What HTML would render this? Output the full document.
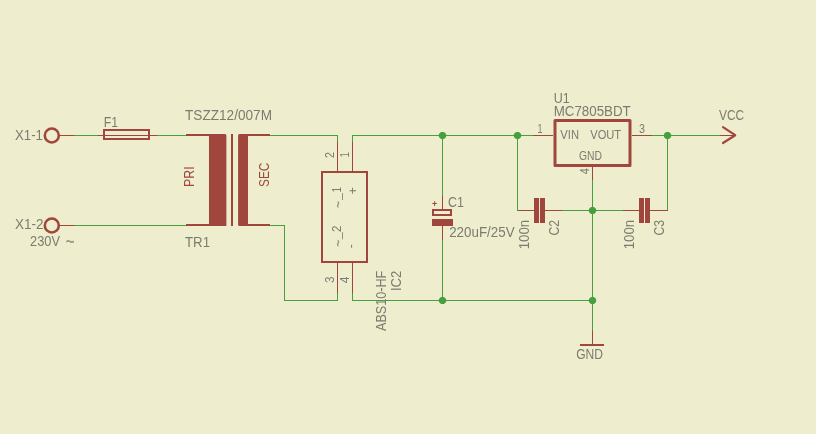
<!DOCTYPE html>
<html>
<head>
<meta charset="utf-8">
<title>Schematic</title>
<style>
html,body{margin:0;padding:0;background:#eeeece;}
body{width:816px;height:434px;overflow:hidden;}
svg{display:block;will-change:transform;}
text{font-family:"Liberation Sans",sans-serif;}
.w{stroke:#46a03d;stroke-width:1;fill:none;shape-rendering:crispEdges;}
.p{stroke:#a0463d;stroke-width:1;fill:none;shape-rendering:crispEdges;}
.s{stroke:#a0463d;stroke-width:2;fill:none;}
.f{fill:#a0463d;stroke:none;shape-rendering:crispEdges;}
.j{fill:#46a03d;stroke:none;}
.t{fill:#7b7b70;font-size:14.4px;}
.n{fill:#7b7b70;font-size:12.2px;}
.r{fill:#a0463d;font-size:14.4px;}
</style>
</head>
<body>
<svg width="816" height="434" viewBox="0 0 816 434">
<rect x="0" y="0" width="816" height="434" fill="#eeeece"/>

<!-- wires -->
<path class="w" d="M74 135.5H98 M157 135.5H186 M74 225.5H186"/>
<path class="w" d="M270 135.5H337.5V142 M270 225.5H284.5V300.5H337.5V292.5"/>
<path class="w" d="M352.5 142V135.5H533 M652 135.5H720 M352.5 292.5V300.5H592.5"/>
<path class="w" d="M442.5 135.5V195.5 M442.5 240V300.5"/>
<path class="w" d="M517.5 135.5V210.5 M562 210.5H623 M667.5 135.5V210.5 M592.5 180V330.5"/>

<!-- pins (red thin) -->
<path class="p" d="M60 135.5H74 M98 135.5H157 M60 225.5H74"/>
<path class="p" d="M337.5 142V171 M352.5 142V171 M337.5 263V292.5 M352.5 263V292.5"/>
<path class="p" d="M442.5 195.5V210 M442.5 225V240"/>
<path class="p" d="M517.5 210.5H534 M545 210.5H562 M623 210.5H639 M650 210.5H667.5"/>
<path class="p" d="M533 135.5H553 M632 135.5H652 M592.5 166V180 M592.5 330.5V345 M720 135.5H735"/>

<!-- connectors -->
<circle class="s" cx="51.8" cy="135.5" r="7" style="stroke-width:2.6"/>
<circle class="s" cx="51.8" cy="225.5" r="7" style="stroke-width:2.6"/>
<text class="t" x="15" y="139.7" textLength="28" lengthAdjust="spacingAndGlyphs">X1-1</text>
<text class="t" x="15" y="229.2" textLength="28.5" lengthAdjust="spacingAndGlyphs">X1-2</text>
<text class="t" x="30" y="246" textLength="30" lengthAdjust="spacingAndGlyphs">230V</text>
<text class="t" transform="translate(65.6 249.6) scale(1 1.8)" textLength="9" lengthAdjust="spacingAndGlyphs" style="fill:#97978a">~</text>

<!-- fuse -->
<rect class="s" x="104" y="130" width="45" height="9" shape-rendering="crispEdges"/>
<text class="t" x="103.7" y="127" textLength="14.3" lengthAdjust="spacingAndGlyphs">F1</text>

<!-- transformer -->
<path d="M186 134H225Q226.4 134 226.4 135.5V226H186V224H209V136H186Z" fill="#a0463d"/>
<rect class="f" x="231" y="134" width="2" height="92"/>
<path d="M270 134H239.5Q238.1 134 238.1 135.5V224.5Q238.1 226 239.5 226H270V224H248V136H270Z" fill="#a0463d"/>
<text class="t" x="185" y="120" textLength="87" lengthAdjust="spacingAndGlyphs">TSZZ12/007M</text>
<text class="t" x="185" y="247" textLength="25" lengthAdjust="spacingAndGlyphs">TR1</text>
<text class="r" transform="translate(194 187) rotate(-90)" textLength="20.6" lengthAdjust="spacingAndGlyphs">PRI</text>
<text class="r" transform="translate(269 187) rotate(-90)" textLength="24.3" lengthAdjust="spacingAndGlyphs">SEC</text>

<!-- bridge -->
<rect class="s" x="322" y="172" width="45" height="90" shape-rendering="crispEdges"/>
<text class="n" transform="translate(334 158) rotate(-90)" textLength="6" lengthAdjust="spacingAndGlyphs">2</text>
<text class="n" transform="translate(349 157.5) rotate(-90)" textLength="5.5" lengthAdjust="spacingAndGlyphs">1</text>
<text class="n" transform="translate(334 283) rotate(-90)" textLength="6.5" lengthAdjust="spacingAndGlyphs">3</text>
<text class="n" transform="translate(348.7 283.2) rotate(-90)" textLength="6.7" lengthAdjust="spacingAndGlyphs">4</text>
<g class="n"><text transform="translate(344.9 208) rotate(-90) scale(1 1.7)" textLength="7" lengthAdjust="spacingAndGlyphs" style="fill:#97978a">~</text><text transform="translate(339.6 199.7) rotate(-90)" textLength="6.7" lengthAdjust="spacingAndGlyphs">_</text><text transform="translate(341.2 192.6) rotate(-90)" textLength="5.6" lengthAdjust="spacingAndGlyphs">1</text></g>
<g class="n"><text transform="translate(344.9 246.8) rotate(-90) scale(1 1.7)" textLength="7" lengthAdjust="spacingAndGlyphs" style="fill:#97978a">~</text><text transform="translate(339.6 239) rotate(-90)" textLength="6.7" lengthAdjust="spacingAndGlyphs">_</text><text transform="translate(341.2 232) rotate(-90)" textLength="6.4" lengthAdjust="spacingAndGlyphs">2</text></g>
<text class="n" transform="translate(356.6 194.2) rotate(-90)">+</text>
<text class="n" transform="translate(354.8 248.2) rotate(-90)">-</text>
<text class="t" transform="translate(386.2 331) rotate(-90)" textLength="60.3" lengthAdjust="spacingAndGlyphs">ABS10-HF</text>
<text class="t" transform="translate(401.2 291) rotate(-90)" textLength="20.3" lengthAdjust="spacingAndGlyphs">IC2</text>

<!-- C1 -->
<rect class="s" x="433" y="210" width="18.4" height="5" style="stroke-width:2" shape-rendering="crispEdges"/>
<rect class="f" x="432" y="219" width="21" height="7"/>
<text x="431.9" y="206.7" style="font-size:9px;font-weight:bold;fill:#a0463d">+</text>
<text class="t" x="448" y="206.8" textLength="16" lengthAdjust="spacingAndGlyphs">C1</text>
<text class="t" x="449.2" y="236.8" textLength="65.4" lengthAdjust="spacingAndGlyphs">220uF/25V</text>

<!-- C2 C3 -->
<rect class="f" x="534" y="198" width="5" height="25"/>
<rect class="f" x="540" y="198" width="5" height="25"/>
<rect class="f" x="639" y="198" width="5" height="25"/>
<rect class="f" x="645" y="198" width="5" height="25"/>
<text class="t" transform="translate(529 249.3) rotate(-90)" textLength="29.4" lengthAdjust="spacingAndGlyphs">100n</text>
<text class="t" transform="translate(559.1 235.5) rotate(-90)" textLength="15.6" lengthAdjust="spacingAndGlyphs">C2</text>
<text class="t" transform="translate(634 249.3) rotate(-90)" textLength="29.4" lengthAdjust="spacingAndGlyphs">100n</text>
<text class="t" transform="translate(664.2 235.5) rotate(-90)" textLength="15.6" lengthAdjust="spacingAndGlyphs">C3</text>

<!-- U1 -->
<rect x="555" y="120.5" width="75" height="45" fill="none" stroke="#a0463d" stroke-width="3" stroke-linejoin="round"/>
<text class="t" x="553.7" y="103" textLength="16" lengthAdjust="spacingAndGlyphs">U1</text>
<text class="t" x="553.7" y="115.7" textLength="77" lengthAdjust="spacingAndGlyphs">MC7805BDT</text>
<text class="n" x="560.3" y="138.8" textLength="18.7" lengthAdjust="spacingAndGlyphs" style="font-size:12.4px">VIN</text>
<text class="n" x="590.2" y="138.8" textLength="31" lengthAdjust="spacingAndGlyphs" style="font-size:12.4px">VOUT</text>
<text class="n" x="579" y="159.8" textLength="23" lengthAdjust="spacingAndGlyphs" style="font-size:12.4px">GND</text>
<text class="n" x="537.5" y="132.8" textLength="5" lengthAdjust="spacingAndGlyphs">1</text>
<text class="n" x="639" y="132.8" textLength="6" lengthAdjust="spacingAndGlyphs">3</text>
<text class="n" transform="translate(588.6 174.2) rotate(-90)" textLength="6.2" lengthAdjust="spacingAndGlyphs">4</text>

<!-- VCC -->
<path d="M723 127.2L735.2 135.2L723 143" fill="none" stroke="#a0463d" stroke-width="2.2" stroke-linecap="round" stroke-linejoin="round"/>
<text class="t" x="719" y="120" textLength="25.2" lengthAdjust="spacingAndGlyphs">VCC</text>

<!-- GND -->
<rect class="f" x="580" y="344" width="24" height="2"/>
<text class="t" x="576.2" y="358.9" textLength="26.8" lengthAdjust="spacingAndGlyphs">GND</text>

<!-- junctions -->
<polygon class="j" points="441,131.9 444,131.9 446.1,134 446.1,137 444,139.1 441,139.1 438.9,137 438.9,134"/>
<polygon class="j" points="516,131.9 519,131.9 521.1,134 521.1,137 519,139.1 516,139.1 513.9,137 513.9,134"/>
<polygon class="j" points="666,131.9 669,131.9 671.1,134 671.1,137 669,139.1 666,139.1 663.9,137 663.9,134"/>
<polygon class="j" points="591,206.9 594,206.9 596.1,209 596.1,212 594,214.1 591,214.1 588.9,212 588.9,209"/>
<polygon class="j" points="441,296.9 444,296.9 446.1,299 446.1,302 444,304.1 441,304.1 438.9,302 438.9,299"/>
<polygon class="j" points="591,296.9 594,296.9 596.1,299 596.1,302 594,304.1 591,304.1 588.9,302 588.9,299"/>
</svg>
</body>
</html>
